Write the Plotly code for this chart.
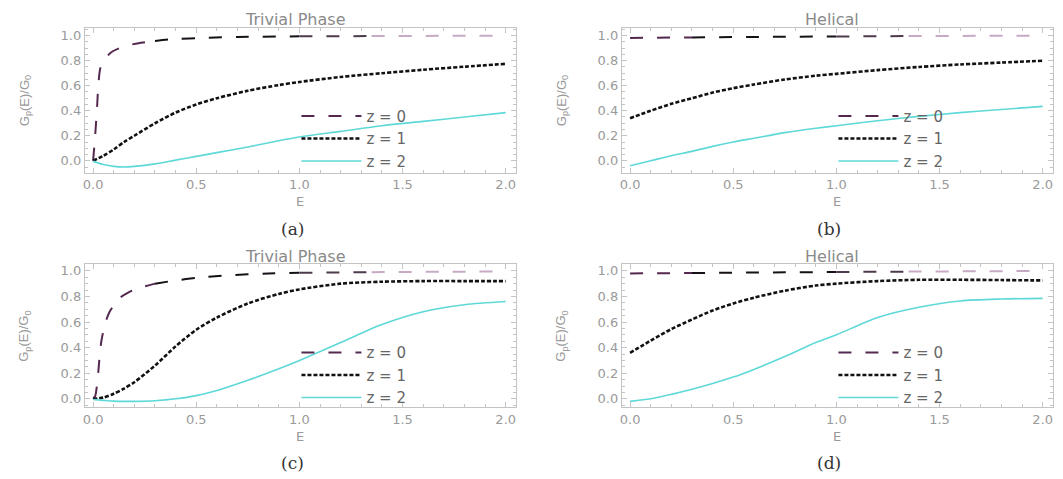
import plotly.graph_objects as go

# ---------------- data ----------------
# (a) Trivial phase, first parameter set
A_E0 = [0, 0.01, 0.02, 0.025, 0.035, 0.06, 0.09, 0.15, 0.22, 0.3, 0.38, 0.55, 0.7, 1.0, 1.35, 1.7, 2.0]
A_Z0 = [0, 0.2, 0.45, 0.6, 0.74, 0.82, 0.87, 0.915, 0.94, 0.958, 0.972, 0.983, 0.99, 0.995, 0.997, 0.999, 1.0]
A_E = [0, 0.05, 0.1, 0.15, 0.2, 0.3, 0.4, 0.5, 0.6, 0.75, 0.9, 1.0, 1.2, 1.4, 1.6, 1.8, 2.0]
A_Z1 = [0.0, 0.04, 0.09, 0.15, 0.2, 0.3, 0.385, 0.45, 0.5, 0.56, 0.605, 0.63, 0.67, 0.7, 0.728, 0.752, 0.775]
A_Z2 = [-0.005, -0.03, -0.045, -0.05, -0.045, -0.025, 0.005, 0.035, 0.065, 0.11, 0.16, 0.19, 0.235, 0.28, 0.315, 0.35, 0.385]

# (b) Helical, first parameter set
B_E0 = [0, 0.3, 0.6, 1.0, 1.35, 1.7, 2.0]
B_Z0 = [0.982, 0.986, 0.99, 0.994, 0.997, 0.999, 1.0]
B_E = [0, 0.1, 0.2, 0.3, 0.4, 0.5, 0.6, 0.75, 0.9, 1.0, 1.2, 1.4, 1.6, 1.8, 2.0]
B_Z1 = [0.34, 0.40, 0.455, 0.5, 0.545, 0.58, 0.61, 0.65, 0.68, 0.695, 0.725, 0.75, 0.77, 0.785, 0.80]
B_Z2 = [-0.04, 0.0, 0.04, 0.075, 0.115, 0.15, 0.18, 0.225, 0.26, 0.28, 0.32, 0.355, 0.385, 0.41, 0.435]

# (c) Trivial phase, second parameter set
C_E0 = [0, 0.01, 0.02, 0.03, 0.04, 0.06, 0.08, 0.1, 0.13, 0.17, 0.21, 0.3, 0.4, 0.5, 0.65, 0.85, 1.0, 1.35, 1.7, 2.0]
C_Z0 = [0, 0.02, 0.12, 0.3, 0.45, 0.6, 0.68, 0.73, 0.79, 0.83, 0.86, 0.9, 0.925, 0.945, 0.965, 0.98, 0.985, 0.99, 0.993, 0.995]
C_E = [0, 0.05, 0.1, 0.15, 0.2, 0.3, 0.4, 0.5, 0.6, 0.75, 0.9, 1.0, 1.2, 1.4, 1.6, 1.8, 2.0]
C_Z1 = [0.0, 0.01, 0.04, 0.08, 0.13, 0.26, 0.41, 0.54, 0.635, 0.745, 0.82, 0.855, 0.9, 0.915, 0.92, 0.92, 0.92]
C_Z2 = [-0.005, -0.012, -0.018, -0.02, -0.02, -0.015, 0.0, 0.025, 0.065, 0.145, 0.235, 0.3, 0.44, 0.58, 0.68, 0.735, 0.76]

# (d) Helical, second parameter set
D_E0 = [0, 0.3, 0.6, 1.0, 1.35, 1.7, 2.0]
D_Z0 = [0.98, 0.983, 0.987, 0.991, 0.994, 0.997, 0.999]
D_E = [0, 0.1, 0.2, 0.3, 0.4, 0.5, 0.6, 0.75, 0.9, 1.0, 1.2, 1.4, 1.6, 1.8, 2.0]
D_Z1 = [0.36, 0.455, 0.545, 0.62, 0.69, 0.745, 0.79, 0.845, 0.885, 0.9, 0.92, 0.93, 0.93, 0.928, 0.925]
D_Z2 = [-0.02, 0.0, 0.035, 0.075, 0.12, 0.17, 0.23, 0.33, 0.44, 0.5, 0.635, 0.715, 0.765, 0.78, 0.785]

PANEL_TITLES = ["Trivial Phase", "Helical", "Trivial Phase", "Helical"]
PANEL_TAGS = ["(a)", "(b)", "(c)", "(d)"]
SERIES_NAMES = ["z = 0", "z = 1", "z = 2"]
X_TICKS = [0.0, 0.5, 1.0, 1.5, 2.0]
Y_TICKS = [0.0, 0.2, 0.4, 0.6, 0.8, 1.0]

# z = 0 curve is shaded along E; boundaries (present in every E0 list) and colours
Z0_BREAKS = [0.0, 0.3, 1.0, 1.35, 2.0]
Z0_COLORS = ["#55284f", "#161116", "#4d3a4b", "#c6aac3"]

panels = [
    (A_E0, A_Z0, A_E, A_Z1, A_Z2),
    (B_E0, B_Z0, B_E, B_Z1, B_Z2),
    (C_E0, C_Z0, C_E, C_Z1, C_Z2),
    (D_E0, D_Z0, D_E, D_Z1, D_Z2),
]

W, H = 1063, 479
# plot frames in pixels: (left, right, top, bottom)
frames = [(83, 515, 27, 172), (621, 1053, 27, 172), (83, 515, 264, 407), (621, 1053, 264, 407)]
y_ranges = [[-0.095, 1.062], [-0.095, 1.062], [-0.065, 1.05], [-0.065, 1.05]]

GRAY_TXT = "#9a9a9a"
FRAME = "#c4c4c4"
SANS = "DejaVu Sans, Liberation Sans, Arial"

fig = go.Figure()
layout = dict(
    width=W, height=H, margin=dict(l=0, r=0, t=0, b=0),
    paper_bgcolor="white", plot_bgcolor="white", showlegend=True,
    annotations=[],
)


def paper_y(py):
    return (H - py) / H


for i, (e0, z0, e, z1, z2) in enumerate(panels):
    k = "" if i == 0 else str(i + 1)
    xa, ya = "x" + k, "y" + k
    leg = "legend" + k
    l, r, t, b = frames[i]

    # z = 0, long dashes, shaded segment by segment
    for s in range(len(Z0_COLORS)):
        lo, hi = Z0_BREAKS[s], Z0_BREAKS[s + 1]
        idx = [j for j, v in enumerate(e0) if lo <= v <= hi]
        fig.add_trace(go.Scatter(
            x=[e0[j] for j in idx], y=[z0[j] for j in idx], mode="lines",
            line=dict(color=Z0_COLORS[s], width=2, dash="13px,14px", shape="spline", smoothing=0.6),
            name=SERIES_NAMES[0], showlegend=(s == 0), legend=leg,
            xaxis=xa, yaxis=ya, hoverinfo="skip",
        ))
    # z = 1, short dense dashes
    fig.add_trace(go.Scatter(
        x=e, y=z1, mode="lines",
        line=dict(color="#111111", width=2.6, dash="4px,2px", shape="spline", smoothing=0.8),
        name=SERIES_NAMES[1], legend=leg, xaxis=xa, yaxis=ya,
    ))
    # z = 2, solid cyan
    fig.add_trace(go.Scatter(
        x=e, y=z2, mode="lines",
        line=dict(color="#5fd8d8", width=1.6, shape="spline", smoothing=0.8),
        name=SERIES_NAMES[2], legend=leg, xaxis=xa, yaxis=ya,
    ))

    axis_common = dict(
        showline=True, linecolor=FRAME, linewidth=1, mirror="allticks",
        showgrid=False, zeroline=False, ticks="inside", ticklen=5, tickcolor=FRAME,
        tickfont=dict(family=SANS, size=13, color=GRAY_TXT),
        minor=dict(ticks="inside", ticklen=3, tickcolor=FRAME, nticks=5),
        fixedrange=True,
    )
    layout["xaxis" + k] = dict(
        axis_common, domain=[l / W, r / W], range=[-0.04, 2.05], anchor=ya,
        tickvals=X_TICKS, ticktext=[f"{v:.1f}" for v in X_TICKS],
    )
    layout["yaxis" + k] = dict(
        axis_common, domain=[paper_y(b), paper_y(t)], range=y_ranges[i], anchor=xa,
        tickvals=Y_TICKS, ticktext=[f"{v:.1f}" for v in Y_TICKS],
    )

    layout[leg] = dict(
        x=(l + 212) / W, y=paper_y(t + 72), xanchor="left", yanchor="top",
        bgcolor="rgba(0,0,0,0)", borderwidth=0, itemwidth=60,
        font=dict(family=SANS, size=15, color="#666666"),
        tracegroupgap=0,
    )

    cx = (l + r) / 2
    layout["annotations"] += [
        dict(text=PANEL_TITLES[i], x=(cx - 5) / W, y=paper_y(t - 8), xref="paper", yref="paper",
             xanchor="center", yanchor="middle", showarrow=False,
             font=dict(family=SANS, size=16, color="#8a8a8a")),
        dict(text="E", x=cx / W, y=paper_y(b + 29), xref="paper", yref="paper",
             xanchor="center", yanchor="middle", showarrow=False,
             font=dict(family=SANS, size=13, color=GRAY_TXT)),
        dict(text="G<sub>p</sub>(E)/G<sub>0</sub>", x=(l - 60) / W, y=paper_y((t + b) / 2),
             xref="paper", yref="paper", xanchor="center", yanchor="middle",
             textangle=-90, showarrow=False,
             font=dict(family="Liberation Sans, Arial", size=13, color=GRAY_TXT)),
        dict(text=PANEL_TAGS[i], x=(cx - 8) / W, y=paper_y(b + 56), xref="paper", yref="paper",
             xanchor="center", yanchor="middle", showarrow=False,
             font=dict(family="DejaVu Serif, Liberation Serif", size=17, color="#333333")),
    ]

fig.update_layout(**layout)
fig.write_html("out.html")
